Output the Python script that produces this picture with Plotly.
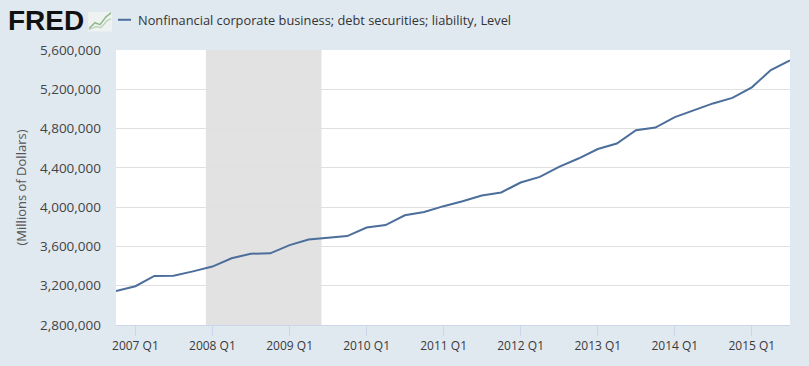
import plotly.graph_objects as go

dates = ["2006-10-01",
         "2007-01-01", "2007-04-01", "2007-07-01", "2007-10-01",
         "2008-01-01", "2008-04-01", "2008-07-01", "2008-10-01",
         "2009-01-01", "2009-04-01", "2009-07-01", "2009-10-01",
         "2010-01-01", "2010-04-01", "2010-07-01", "2010-10-01",
         "2011-01-01", "2011-04-01", "2011-07-01", "2011-10-01",
         "2012-01-01", "2012-04-01", "2012-07-01", "2012-10-01",
         "2013-01-01", "2013-04-01", "2013-07-01", "2013-10-01",
         "2014-01-01", "2014-04-01", "2014-07-01", "2014-10-01",
         "2015-01-01", "2015-04-01", "2015-07-01"]
values = [3146000,
          3195000, 3299000, 3301000, 3346000,
          3395000, 3480000, 3526000, 3530000,
          3613000, 3670000, 3687000, 3705000,
          3792000, 3818000, 3917000, 3950000,
          4010000, 4060000, 4119000, 4149000,
          4251000, 4308000, 4410000, 4495000,
          4592000, 4648000, 4783000, 4810000,
          4917000, 4985000, 5056000, 5112000,
          5220000, 5396000, 5494000]

tick_vals = ["2007-01-01", "2008-01-01", "2009-01-01", "2010-01-01", "2011-01-01",
             "2012-01-01", "2013-01-01", "2014-01-01", "2015-01-01"]
tick_text = ["2007 Q1", "2008 Q1", "2009 Q1", "2010 Q1", "2011 Q1",
             "2012 Q1", "2013 Q1", "2014 Q1", "2015 Q1"]
y_ticks = [2800000, 3200000, 3600000, 4000000, 4400000, 4800000, 5200000, 5600000]
recession = ("2007-12-01", "2009-06-01")

series_name = "Nonfinancial corporate business; debt securities; liability, Level"
line_color = "#4b6e9b"
bg = "#e1e9f0"
font_family = "Open Sans, sans-serif"

fig = go.Figure()
fig.add_trace(go.Scatter(x=dates, y=values, mode="lines",
                         line=dict(color=line_color, width=2),
                         name=series_name, showlegend=False))

fig.add_shape(type="rect", xref="x", yref="paper",
              x0=recession[0], x1=recession[1], y0=0, y1=1,
              fillcolor="#e2e2e2", line=dict(width=0), layer="below")

W, H = 809, 366
L, R, T, B = 116, 19, 50, 34
pw, ph = W - L - R, H - T - B


def px(x):
    return (x - L) / pw


def py(y):
    return (H - B - y) / ph


# FRED logo text
fig.add_annotation(x=px(6), y=py(20), xref="paper", yref="paper",
                   text="<b>FRED</b>", showarrow=False, xanchor="left", yanchor="middle",
                   font=dict(family="Liberation Sans, Arial, sans-serif", size=28, color="#111111"))
# small chart icon
fig.add_shape(type="rect", xref="paper", yref="paper",
              x0=px(88), x1=px(112), y0=py(31), y1=py(11),
              fillcolor="#eef2f0", line=dict(width=0), layer="above")
fig.add_shape(type="path", xref="paper", yref="paper",
              path=f"M {px(89)},{py(28)} L {px(95)},{py(22)} L {px(100)},{py(24)} L {px(106)},{py(16)} L {px(111)},{py(12)}",
              line=dict(color="#8fb98a", width=1.5), layer="above")
fig.add_shape(type="path", xref="paper", yref="paper",
              path=f"M {px(89)},{py(29)} L {px(96)},{py(26)} L {px(101)},{py(27)} L {px(107)},{py(20)} L {px(111)},{py(18)}",
              line=dict(color="#b5cfb1", width=1.2), layer="above")

# legend line + text
fig.add_shape(type="line", xref="paper", yref="paper",
              x0=px(118), x1=px(131), y0=py(19), y1=py(19),
              line=dict(color=line_color, width=2), layer="above")
fig.add_annotation(x=px(136), y=py(19), xref="paper", yref="paper",
                   text=series_name, showarrow=False, xanchor="left", yanchor="middle",
                   font=dict(family=font_family, size=12.8, color="#333333"))

fig.update_layout(
    width=W, height=H,
    margin=dict(l=L, r=R, t=T, b=B),
    paper_bgcolor=bg, plot_bgcolor="#ffffff",
    font=dict(family=font_family, size=12, color="#444444"),
    xaxis=dict(type="date", range=[dates[0], dates[-1]],
               tickvals=tick_vals, ticktext=tick_text,
               showgrid=False, zeroline=False,
               showline=True, linecolor="#ccd6eb", linewidth=1,
               ticks="outside", ticklen=10, tickcolor="#ccd6eb",
               tickfont=dict(size=12, color="#3a3a3a")),
    yaxis=dict(range=[2800000, 5600000], tickvals=y_ticks,
               tickformat=",d", showgrid=True, gridcolor="#e0e0e0", gridwidth=1,
               zeroline=False, showline=False, ticks="",
               ticklabelstandoff=14,
               tickfont=dict(size=13.5, color="#444444"),
               title=dict(text="(Millions of Dollars)", standoff=10,
                          font=dict(size=13, color="#555555"))),
)

fig.write_html("out.html",
               config={"displayModeBar": False},
               post_script="document.body.style.margin='0';document.body.style.padding='0';"
                           "document.body.style.background='#e1e9f0';")
